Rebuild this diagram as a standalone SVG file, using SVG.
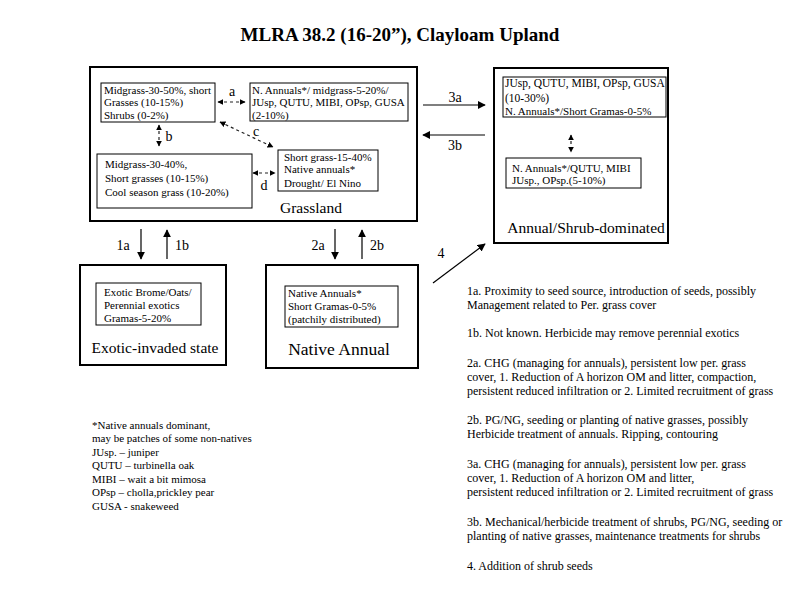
<svg xmlns="http://www.w3.org/2000/svg" width="800" height="600" viewBox="0 0 800 600">
<defs>
<style>
text{font-family:"Liberation Serif","Times New Roman",serif;fill:#000}
.t{font-size:11px}
.n{font-size:12px}
.lbl{font-size:14px}
.big{font-size:15.5px}
.outer{fill:none;stroke:#000;stroke-width:2}
.inner{fill:#fff;stroke:#000;stroke-width:1}
.arr{stroke:#000;stroke-width:1.2;fill:none}
.dash{stroke:#222;stroke-width:1.2;fill:none;stroke-dasharray:3,3}
</style>
<marker id="ah" viewBox="0 0 10 10" refX="9" refY="5" markerWidth="8" markerHeight="8" markerUnits="userSpaceOnUse" orient="auto-start-reverse">
<path d="M0,0 L10,5 L0,10 z" fill="#000"/>
</marker>
<marker id="dh" viewBox="0 0 10 10" refX="9" refY="5" markerWidth="6" markerHeight="6" markerUnits="userSpaceOnUse" orient="auto-start-reverse">
<path d="M0,0 L10,5 L0,10 z" fill="#000"/>
</marker>
</defs>
<rect width="800" height="600" fill="#fff"/>

<text x="400" y="41" text-anchor="middle" font-size="19" font-weight="bold">MLRA 38.2 (16-20”), Clayloam Upland</text>

<g id="grassland">
<rect class="outer" x="90" y="67" width="327" height="154"/>
<text x="311" y="213" text-anchor="middle" class="big">Grassland</text>
</g>
<g id="g-box1">
<rect class="inner" x="101" y="83" width="114" height="39"/>
<text class="t" x="104" y="94">Midgrass-30-50%, short</text>
<text class="t" x="104" y="106">Grasses (10-15%)</text>
<text class="t" x="104" y="119">Shrubs (0-2%)</text>
</g>
<g id="g-box2">
<rect class="inner" x="250" y="83" width="158" height="38"/>
<text class="t" x="252" y="94">N. Annuals*/ midgrass-5-20%/</text>
<text class="t" x="252" y="106">JUsp, QUTU, MIBI, OPsp, GUSA</text>
<text class="t" x="252" y="119">(2-10%)</text>
</g>
<g id="g-box3">
<rect class="inner" x="97" y="154" width="155" height="54"/>
<text class="t" x="105" y="168">Midgrass-30-40%,</text>
<text class="t" x="105" y="182">Short grasses (10-15%)</text>
<text class="t" x="105" y="196">Cool season grass (10-20%)</text>
</g>
<g id="g-box4">
<rect class="inner" x="278" y="150" width="100" height="41"/>
<text class="t" x="284" y="161">Short grass-15-40%</text>
<text class="t" x="284" y="173">Native annuals*</text>
<text class="t" x="284" y="187">Drought/ El Nino</text>
</g>

<g id="annual-shrub">
<rect class="outer" x="494" y="68" width="174" height="175"/>
<text x="586" y="233" text-anchor="middle" class="big">Annual/Shrub-dominated</text>
</g>
<g id="a-box1">
<rect class="inner" x="503" y="77" width="163" height="40"/>
<text font-size="11.5" x="505" y="87">JUsp, QUTU, MIBI, OPsp, GUSA</text>
<text font-size="11.5" x="505" y="102">(10-30%)</text>
<text font-size="11" x="505" y="115">N. Annuals*/Short Gramas-0-5%</text>
</g>
<g id="a-box2">
<rect class="inner" x="506" y="158" width="135" height="30"/>
<text class="t" x="512" y="172">N. Annuals*/QUTU, MIBI</text>
<text class="t" x="512" y="184">JUsp., OPsp.(5-10%)</text>
</g>

<g id="exotic">
<rect class="outer" x="80" y="265" width="146" height="100"/>
<text x="155" y="353" text-anchor="middle" font-size="15.5">Exotic-invaded state</text>
</g>
<g id="e-box">
<rect class="inner" x="96" y="283" width="105" height="42"/>
<text class="t" x="104" y="296">Exotic Brome/Oats/</text>
<text class="t" x="104" y="309">Perennial exotics</text>
<text class="t" x="104" y="322">Gramas-5-20%</text>
</g>

<g id="native-annual">
<rect class="outer" x="266" y="265" width="152" height="103"/>
<text x="339" y="355" text-anchor="middle" font-size="17.5">Native Annual</text>
</g>
<g id="n-box">
<rect class="inner" x="285" y="286" width="113" height="41"/>
<text class="t" x="288" y="297">Native Annuals*</text>
<text class="t" x="288" y="310">Short Gramas-0-5%</text>
<text class="t" x="288" y="323">(patchily distributed)</text>
</g>

<g id="connectors">
<line class="dash" x1="218" y1="102" x2="245" y2="102" marker-start="url(#dh)" marker-end="url(#dh)"/>
<line class="dash" x1="159" y1="125" x2="159" y2="146" marker-start="url(#dh)" marker-end="url(#dh)"/>
<line class="dash" x1="220" y1="122" x2="273" y2="147" marker-start="url(#dh)" marker-end="url(#dh)"/>
<line class="dash" x1="253" y1="173" x2="275" y2="173" marker-start="url(#dh)" marker-end="url(#dh)"/>
<line class="dash" x1="571" y1="135" x2="571" y2="152" marker-start="url(#dh)" marker-end="url(#dh)"/>
<line class="arr" x1="423" y1="105" x2="485" y2="105" marker-end="url(#ah)"/>
<line class="arr" x1="485" y1="135" x2="423" y2="135" marker-end="url(#ah)"/>
<line class="arr" x1="433" y1="283" x2="485" y2="244" marker-end="url(#ah)"/>
<line class="arr" x1="141" y1="229" x2="141" y2="259" marker-end="url(#ah)"/>
<line class="arr" x1="167" y1="259" x2="167" y2="230" marker-end="url(#ah)"/>
<line class="arr" x1="335" y1="229" x2="335" y2="259" marker-end="url(#ah)"/>
<line class="arr" x1="362" y1="259" x2="362" y2="230" marker-end="url(#ah)"/>
<text class="lbl" x="232" y="96" text-anchor="middle">a</text>
<text class="lbl" x="169" y="141" text-anchor="middle">b</text>
<text class="lbl" x="256" y="136" text-anchor="middle">c</text>
<text class="lbl" x="264" y="190" text-anchor="middle">d</text>
<text class="lbl" x="455" y="102" text-anchor="middle">3a</text>
<text class="lbl" x="455" y="150" text-anchor="middle">3b</text>
<text class="lbl" x="441" y="258" text-anchor="middle">4</text>
<text class="lbl" x="123" y="250" text-anchor="middle">1a</text>
<text class="lbl" x="182" y="250" text-anchor="middle">1b</text>
<text class="lbl" x="318" y="250" text-anchor="middle">2a</text>
<text class="lbl" x="377" y="250" text-anchor="middle">2b</text>
</g>

<g id="legend" class="t">
<text x="92" y="429">*Native annuals dominant,</text>
<text x="92" y="442">may be patches of some non-natives</text>
<text x="92" y="456">JUsp. – juniper</text>
<text x="92" y="469">QUTU – turbinella oak</text>
<text x="92" y="483">MIBI – wait a bit mimosa</text>
<text x="92" y="496">OPsp – cholla,prickley pear</text>
<text x="92" y="510">GUSA - snakeweed</text>
</g>

<g id="notes" class="n">
<text x="467" y="295">1a. Proximity to seed source, introduction of seeds, possibly</text>
<text x="467" y="309">Management related to Per. grass cover</text>
<text x="467" y="337">1b. Not known. Herbicide may remove perennial exotics</text>
<text x="467" y="367">2a. CHG (managing for annuals), persistent low per. grass</text>
<text x="467" y="381">cover, 1. Reduction of A horizon OM and litter, compaction,</text>
<text x="467" y="395">persistent reduced infiltration or 2. Limited recruitment of grass</text>
<text x="467" y="424">2b. PG/NG, seeding or planting of native grasses, possibly</text>
<text x="467" y="438">Herbicide treatment of annuals. Ripping, contouring</text>
<text x="467" y="468">3a. CHG (managing for annuals), persistent low per. grass</text>
<text x="467" y="482">cover, 1. Reduction of A horizon OM and litter,</text>
<text x="467" y="496">persistent reduced infiltration or 2. Limited recruitment of grass</text>
<text x="467" y="526">3b. Mechanical/herbicide treatment of shrubs, PG/NG, seeding or</text>
<text x="467" y="540">planting of native grasses, maintenance treatments for shrubs</text>
<text x="467" y="570">4. Addition of shrub seeds</text>
</g>
</svg>
